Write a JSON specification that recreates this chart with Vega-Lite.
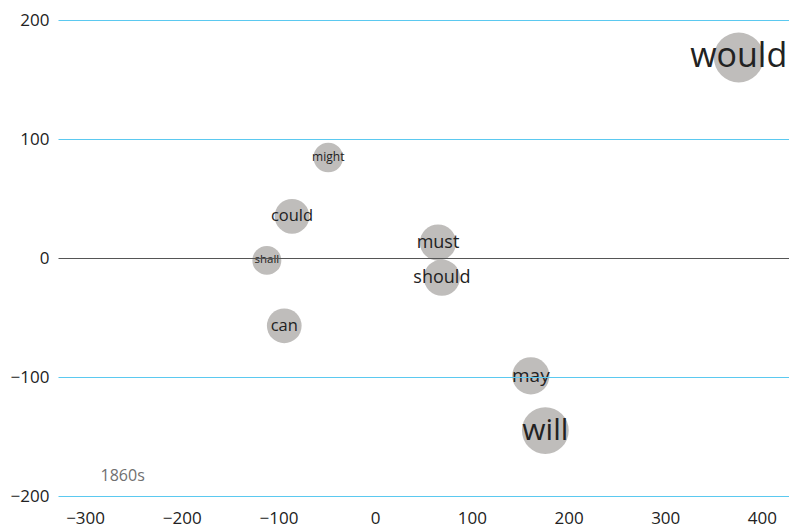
{
  "$schema": "https://vega.github.io/schema/vega-lite/v6.json",
  "autosize": "none",
  "width": 731,
  "height": 476,
  "padding": {"left": 58, "top": 20, "right": 0, "bottom": 33},
  "background": "white",
  "config": {"view": {"stroke": null}, "font": "Open Sans"},
  "datasets": {
    "modals": [
      {"word": "would", "x": 376, "y": 168.5, "freq": 34},
      {"word": "will", "x": 176, "y": -145, "freq": 30},
      {"word": "may", "x": 161, "y": -99, "freq": 19},
      {"word": "must", "x": 65, "y": 13, "freq": 18},
      {"word": "should", "x": 69, "y": -16.5, "freq": 18},
      {"word": "might", "x": -48.5, "y": 84.5, "freq": 12},
      {"word": "could", "x": -86, "y": 35, "freq": 16.5},
      {"word": "shall", "x": -112, "y": -2, "freq": 11.5},
      {"word": "can", "x": -94, "y": -57, "freq": 16.5}
    ],
    "decade": [{"label": "1860s"}]
  },
  "layer": [
    {"data": {"name": "modals"},
     "mark": {"type": "circle", "color": "#bfbdbb", "opacity": 1},
     "encoding": {
       "x": {"field": "x", "type": "quantitative", "scale": {"domain": [-328, 428], "nice": false, "zero": false},
         "axis": {"values": [-300, -200, -100, 0, 100, 200, 300, 400], "grid": false, "domain": false, "ticks": false, "title": null,
           "labelFont": "Open Sans", "labelFontSize": 17, "labelColor": "#222", "labelPadding": 14}},
       "y": {"field": "y", "type": "quantitative", "scale": {"domain": [-200, 200], "nice": false, "zero": false},
         "axis": {"values": [-200, -100, 0, 100, 200], "grid": true, "zindex": 1, "domain": false, "ticks": false, "title": null,
           "gridColor": {"condition": {"test": "datum.value === 0", "value": "#555555"}, "value": "#5bc9f0"},
           "gridWidth": 1, "gridOpacity": 1,
           "labelFont": "Open Sans", "labelFontSize": 17, "labelColor": "#222", "labelPadding": 9}},
       "size": {"field": "freq", "type": "quantitative", "legend": null, "scale": {"type": "linear", "domain": [0, 40], "range": [0, 2920], "zero": true}}}},
    {"data": {"name": "modals"},
     "mark": {"type": "text", "align": "center", "baseline": "middle", "color": "#222222", "font": "Open Sans"},
     "encoding": {
       "x": {"field": "x", "type": "quantitative"},
       "y": {"field": "y", "type": "quantitative"},
       "text": {"field": "word"},
       "size": {"field": "freq", "type": "quantitative", "legend": null, "scale": {"type": "linear", "domain": [0, 40], "range": [0, 40], "zero": true}}}},
    {"data": {"name": "decade"},
     "mark": {"type": "text", "align": "left", "baseline": "middle", "color": "#707070", "font": "Open Sans", "fontSize": 16},
     "encoding": {"x": {"datum": -284, "type": "quantitative"}, "y": {"datum": -183.5, "type": "quantitative"}, "text": {"field": "label"}}}
  ],
  "resolve": {"scale": {"size": "independent"}}
}
